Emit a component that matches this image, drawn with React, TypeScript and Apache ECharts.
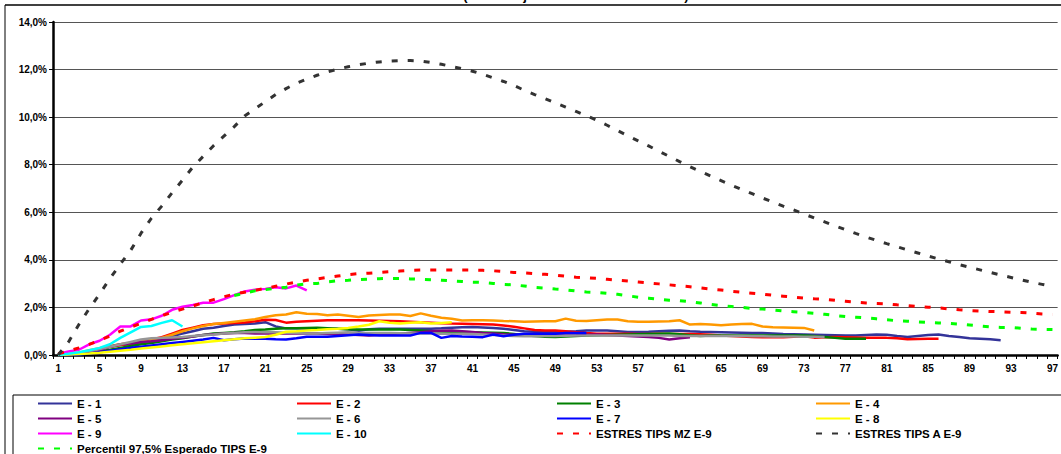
import React, { useEffect, useRef } from "react";
import * as echarts from "echarts";

const categories: string[] = Array.from({ length: 97 }, (_, i) => String(i + 1));

const e1 = [0.0,0.02,0.08,0.15,0.25,0.35,0.42,0.45,0.55,0.62, 0.68,0.8,0.9,1.0,1.1,1.15,1.22,1.28,1.3,1.32, 1.38,1.2,1.12,1.12,1.1,1.1,1.12,1.1,1.08,1.02, 1.08,1.1,1.1,1.1,1.1,1.1,1.1,1.12,1.15,1.17, 1.18,1.16,1.14,1.1,1.05,1.0,0.98,0.96,0.96,0.98, 1.0,1.03,1.03,1.03,1.0,0.97,0.97,0.98,1.0,1.02, 1.03,1.0,0.98,0.97,0.96,0.95,0.94,0.93,0.92,0.9, 0.88,0.87,0.86,0.85,0.84,0.83,0.82,0.82,0.84,0.86, 0.85,0.8,0.76,0.8,0.84,0.86,0.8,0.76,0.7,0.68, 0.66,0.62];
const e2 = [0.0,0.03,0.08,0.15,0.25,0.35,0.42,0.48,0.58,0.65, 0.75,0.9,1.05,1.15,1.25,1.3,1.32,1.35,1.37,1.42, 1.48,1.47,1.36,1.4,1.42,1.44,1.46,1.46,1.46,1.46, 1.45,1.44,1.43,1.42,1.4,1.38,1.36,1.34,1.32,1.31, 1.3,1.29,1.28,1.24,1.19,1.12,1.05,1.03,1.03,1.0, 0.96,0.92,0.89,0.89,0.89,0.89,0.88,0.88,0.89,0.88, 0.88,0.88,0.87,0.85,0.82,0.8,0.78,0.76,0.75,0.75, 0.75,0.77,0.79,0.73,0.75,0.76,0.75,0.74,0.73,0.72, 0.72,0.7,0.66,0.67,0.68,0.68];
const e3 = [0.0,0.0,0.02,0.08,0.15,0.22,0.3,0.38,0.45,0.5, 0.58,0.65,0.7,0.78,0.84,0.9,0.93,0.96,1.0,1.05, 1.07,1.1,1.12,1.12,1.14,1.15,1.12,1.1,1.08,1.07, 1.07,1.07,1.07,1.07,1.05,1.03,1.0,0.99,0.98,0.97, 0.96,0.95,0.94,0.93,0.88,0.83,0.8,0.77,0.76,0.78, 0.8,0.82,0.83,0.84,0.85,0.86,0.87,0.88,0.89,0.9, 0.87,0.83,0.8,0.82,0.82,0.82,0.82,0.82,0.82,0.82, 0.82,0.82,0.82,0.8,0.76,0.72,0.68,0.68,0.68];
const e4 = [0.0,0.05,0.1,0.2,0.28,0.38,0.45,0.5,0.6,0.65, 0.72,0.85,1.0,1.12,1.22,1.3,1.35,1.4,1.45,1.5, 1.6,1.67,1.7,1.8,1.73,1.72,1.67,1.7,1.65,1.6, 1.66,1.68,1.7,1.7,1.64,1.75,1.65,1.57,1.52,1.45, 1.46,1.46,1.45,1.43,1.42,1.4,1.41,1.42,1.42,1.53, 1.44,1.43,1.46,1.49,1.49,1.42,1.4,1.4,1.41,1.42, 1.46,1.28,1.3,1.28,1.25,1.28,1.3,1.31,1.2,1.17, 1.16,1.15,1.14,1.03];
const e5 = [0.0,0.02,0.06,0.12,0.2,0.35,0.45,0.48,0.55,0.58, 0.62,0.68,0.72,0.78,0.84,0.87,0.9,0.93,0.92,0.9, 0.9,0.9,0.9,0.9,0.9,0.9,0.88,0.87,0.86,0.84, 0.82,0.85,0.88,0.9,0.93,0.96,1.0,1.02,1.03,1.0, 0.97,0.93,0.9,0.87,0.85,0.83,0.82,0.82,0.82,0.82, 0.83,0.85,0.86,0.84,0.82,0.8,0.78,0.76,0.72,0.65, 0.7,0.75];
const e6 = [0.0,0.02,0.08,0.15,0.25,0.35,0.45,0.55,0.65,0.7, 0.72,0.74,0.76,0.8,0.83,0.86,0.9,0.93,0.96,0.97, 0.96,0.96,0.94,0.92,0.9,0.9,0.92,0.94,0.96,0.94, 0.93,0.92,0.92,0.91,0.9,0.9,0.9,0.89,0.89,0.89, 0.88,0.86,0.84,0.82,0.8,0.79,0.79,0.8,0.8,0.81, 0.82,0.82,0.82,0.82,0.82,0.82,0.82,0.82,0.82,0.82, 0.8,0.8,0.8,0.8,0.8,0.8,0.8,0.79,0.79,0.78, 0.78,0.78,0.77,0.77,0.76];
const e7 = [0.0,0.0,0.02,0.06,0.12,0.18,0.24,0.3,0.35,0.4, 0.45,0.5,0.55,0.6,0.65,0.72,0.62,0.66,0.69,0.68, 0.68,0.66,0.65,0.7,0.77,0.77,0.77,0.8,0.83,0.86, 0.84,0.82,0.82,0.82,0.82,0.93,0.93,0.72,0.8,0.78, 0.77,0.75,0.86,0.79,0.85,0.89,0.89,0.89,0.89,0.92, 0.93,0.93];
const e8 = [0.0,0.02,0.04,0.06,0.09,0.14,0.18,0.22,0.27,0.32, 0.36,0.41,0.45,0.49,0.54,0.58,0.62,0.66,0.7,0.73, 0.76,0.85,0.98,1.0,1.03,1.05,1.08,1.1,1.14,1.2, 1.27,1.42,1.36,1.32,1.36,1.38,1.32,1.35,1.38];
const e9 = [0.05,0.15,0.22,0.45,0.6,0.85,1.2,1.2,1.45,1.5, 1.65,1.9,2.03,2.1,2.2,2.2,2.35,2.52,2.67,2.74, 2.78,2.85,2.8,2.92,2.72];
const e10 = [0.0,0.05,0.12,0.2,0.3,0.45,0.72,0.95,1.18,1.22, 1.35,1.46,1.2];
const estresMZ = [0.05,0.17,0.3,0.45,0.62,0.8,1.0,1.17,1.33,1.5, 1.65,1.8,1.93,2.06,2.2,2.33,2.45,2.56,2.64,2.72, 2.8,2.89,2.98,3.07,3.14,3.2,3.26,3.32,3.38,3.42, 3.44,3.47,3.5,3.53,3.56,3.57,3.57,3.57,3.57,3.57, 3.57,3.56,3.54,3.51,3.47,3.45,3.42,3.39,3.36,3.31, 3.27,3.24,3.22,3.18,3.14,3.11,3.07,3.03,2.99,2.95, 2.91,2.87,2.82,2.77,2.73,2.68,2.64,2.6,2.56,2.51, 2.47,2.43,2.39,2.36,2.34,2.3,2.26,2.22,2.19,2.17, 2.15,2.11,2.08,2.04,2.01,1.98,1.94,1.9,1.87,1.85, 1.83,1.82,1.8,1.79,1.76,1.72,1.7];
const estresA = [0.0,0.55,1.28,1.95,2.56,3.22,3.82,4.4,5.12,5.75, 6.26,6.82,7.35,7.9,8.35,8.8,9.2,9.6,10.05,10.35, 10.65,10.95,11.2,11.42,11.6,11.76,11.9,12.02,12.12,12.2, 12.27,12.32,12.36,12.38,12.38,12.36,12.3,12.22,12.13,12.04, 11.93,11.8,11.65,11.5,11.33,11.13,10.95,10.78,10.6,10.42, 10.24,10.06,9.87,9.66,9.44,9.22,9.0,8.79,8.57,8.35, 8.13,7.92,7.72,7.52,7.33,7.14,6.96,6.78,6.6,6.43, 6.26,6.1,5.93,5.76,5.6,5.43,5.27,5.11,4.96,4.82, 4.68,4.55,4.42,4.29,4.16,4.04,3.92,3.8,3.69,3.58, 3.47,3.36,3.26,3.16,3.06,2.97,2.88];
const percentil = [null,null,null,null,null,null,null,null,null,null, null,null,null,null,null,null,null,2.5,2.6,2.7, 2.75,2.8,2.85,2.94,2.99,3.01,3.07,3.12,3.14,3.17, 3.19,3.21,3.22,3.22,3.2,3.18,3.16,3.14,3.12,3.09, 3.06,3.05,3.01,2.97,2.95,2.9,2.84,2.81,2.77,2.74, 2.69,2.65,2.63,2.59,2.55,2.49,2.43,2.39,2.34,2.3, 2.28,2.24,2.19,2.13,2.08,2.04,2.0,1.96,1.93,1.89, 1.85,1.82,1.79,1.75,1.71,1.66,1.62,1.59,1.56,1.52, 1.48,1.44,1.42,1.39,1.37,1.35,1.33,1.3,1.26,1.22, 1.18,1.16,1.16,1.12,1.09,1.08,1.07];

const yTicks = [0, 2, 4, 6, 8, 10, 12, 14];

const FONT = "'Liberation Sans', Arial, sans-serif";

export default function App() {
  const ref = useRef<HTMLDivElement>(null);
  useEffect(() => {
    if (!ref.current) return;
    const chart = echarts.init(ref.current, null, { renderer: "svg" });
    const solid = (name: string, data: any[], color: string) => ({
      name, type: "line", data, symbol: "none", smooth: false,
      lineStyle: { color, width: 2.5, type: "solid" }, itemStyle: { color },
    });
    const dashed = (name: string, data: any[], color: string) => ({
      name, type: "line", data, symbol: "none", smooth: false, connectNulls: false,
      lineStyle: { color, width: 3, type: [6, 10], cap: "butt" }, itemStyle: { color },
    });
    const legendBase = {
      orient: "vertical", top: 396, height: 80, itemWidth: 34, itemHeight: 8, itemGap: 0, padding: 0,
      itemStyle: { opacity: 0, borderWidth: 0 },
      textStyle: { fontFamily: FONT, fontWeight: "bold", fontSize: 11.5, color: "#000", lineHeight: 15 },
      selectedMode: false,
    };
    chart.setOption({
      animation: false,
      backgroundColor: "#fff",
      textStyle: { fontFamily: FONT },
      grid: { left: 53, right: 0, top: 22, bottom: 99, containLabel: false },
      xAxis: {
        type: "category", data: categories, boundaryGap: true,
        axisLine: { lineStyle: { color: "#000", width: 2.5 } },
        axisTick: { show: true, interval: 0, length: 4, lineStyle: { color: "#000", width: 1 } },
        axisLabel: { interval: 3, color: "#000", fontWeight: "bold", fontSize: 10, fontFamily: FONT, margin: 8 },
        splitLine: { show: false },
      },
      yAxis: {
        type: "value", min: yTicks[0], max: yTicks[yTicks.length - 1], interval: 2,
        axisLine: { show: true, lineStyle: { color: "#000", width: 2.5 } },
        axisTick: { show: true, length: 4, lineStyle: { color: "#000", width: 1 } },
        axisLabel: {
          color: "#000", fontWeight: "bold", fontSize: 10, fontFamily: FONT, margin: 6,
          formatter: (v: number) => v.toFixed(1).replace(".", ",") + "%",
        },
        splitLine: { show: true, lineStyle: { color: "#555", width: 1 } },
      },
      legend: [
        { ...legendBase, left: 37, data: ["E - 1", "E - 5", "E - 9", "Percentil 97,5% Esperado TIPS E-9"] },
        { ...legendBase, left: 296, data: ["E - 2", "E - 6", "E - 10"] },
        { ...legendBase, left: 556, data: ["E - 3", "E - 7", "ESTRES TIPS MZ E-9"] },
        { ...legendBase, left: 815, data: ["E - 4", "E - 8", "ESTRES TIPS A E-9"] },
      ],
      graphic: [
        { type: "line", shape: { x1: 5, y1: 5, x2: 1061, y2: 5 }, style: { stroke: "#404040", lineWidth: 2 }, silent: true },
        { type: "line", shape: { x1: 5, y1: 5, x2: 5, y2: 454 }, style: { stroke: "#000", lineWidth: 1 }, silent: true },
        { type: "rect", shape: { x: 13, y: 395, width: 1100, height: 100 }, style: { fill: "none", stroke: "#000", lineWidth: 1 }, silent: true, z: -1 },
        {
          type: "text", x: 576, y: 2, silent: true,
          style: { text: "(Porcentaje sobre el valor del fondo)", fill: "#000", font: "bold 13px " + FONT, textAlign: "center", textVerticalAlign: "bottom" },
        },
      ],
      series: [
        solid("E - 1", e1, "#333399"),
        solid("E - 2", e2, "#FF0000"),
        solid("E - 3", e3, "#008000"),
        solid("E - 4", e4, "#FF9900"),
        solid("E - 5", e5, "#800080"),
        solid("E - 6", e6, "#969696"),
        solid("E - 7", e7, "#0000FF"),
        solid("E - 8", e8, "#FFFF00"),
        solid("E - 9", e9, "#FF00FF"),
        solid("E - 10", e10, "#00FFFF"),
        dashed("ESTRES TIPS MZ E-9", estresMZ, "#FF0000"),
        dashed("ESTRES TIPS A E-9", estresA, "#333333"),
        dashed("Percentil 97,5% Esperado TIPS E-9", percentil, "#00FF00"),
      ],
    });
    return () => chart.dispose();
  }, []);
  return (
    <div style={{ position: "fixed", left: 0, top: 0, width: 1061, height: 454, background: "#fff" }}>
      <div ref={ref} style={{ width: 1061, height: 454 }} />
    </div>
  );
}
